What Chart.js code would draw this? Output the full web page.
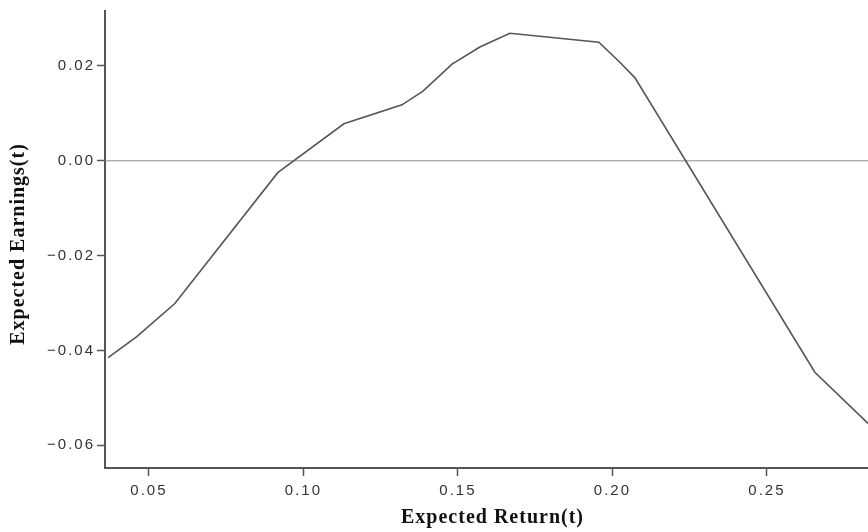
<!DOCTYPE html>
<html lang="en">
<head>
  <meta charset="UTF-8" />
  <title>Expected Earnings vs Expected Return</title>
  <script src="https://cdn.jsdelivr.net/npm/chart.js"></script>
  <style>
    html, body { margin: 0; padding: 0; background: #fff; }
    #wrap { width: 868px; height: 532px; }
  </style>
</head>
<body>
  <div id="wrap"><canvas id="chart" width="868" height="532"></canvas></div>

  <script>
    // Data
    const returns = [0.0368, 0.0461, 0.0584, 0.0917, 0.1131, 0.1319, 0.1387, 0.1481, 0.1571, 0.1668, 0.1956, 0.2024, 0.2073, 0.2655, 0.2827];
    const earnings = [-0.0415, -0.0371, -0.0301, -0.0025, 0.0078, 0.0118, 0.0147, 0.0204, 0.0240, 0.0269, 0.0250, 0.0208, 0.0175, -0.0446, -0.0554];

    const xTicks = [0.05, 0.10, 0.15, 0.20, 0.25];
    const xTickLabels = ['0.05', '0.10', '0.15', '0.20', '0.25'];
    const yTicks = [-0.06, -0.04, -0.02, 0.00, 0.02];
    const yTickLabels = ['\u22120.06', '\u22120.04', '\u22120.02', '0.00', '0.02'];

    const xTitle = 'Expected Return(t)';
    const yTitle = 'Expected Earnings(t)';

    const xMin = 0.0358, xMax = 0.2827;
    const yMin = -0.0648, yMax = 0.0316;

    const axisColor = '#555';
    const tickFont = { family: 'Liberation Sans', size: 15 };

    // wider spacing for tick labels, like the original
    const spacing = {
      id: 'spacing',
      beforeDraw(chart) { chart.ctx.letterSpacing = '2px'; }
    };

    // axis titles, bold serif
    const axisTitles = {
      id: 'axisTitles',
      afterDraw(chart) {
        const { ctx, chartArea } = chart;
        ctx.save();
        ctx.letterSpacing = '1px';
        ctx.font = 'bold 20px "Liberation Serif"';
        ctx.fillStyle = '#111';
        ctx.textAlign = 'center';
        ctx.textBaseline = 'middle';
        ctx.fillText(xTitle, (chartArea.left + chartArea.right) / 2 + 6, 518);
        ctx.translate(19, 244);
        ctx.rotate(-Math.PI / 2);
        ctx.fillText(yTitle, 0, 0);
        ctx.restore();
      }
    };

    new Chart(document.getElementById('chart'), {
      type: 'line',
      data: {
        datasets: [
          {
            data: returns.map((x, i) => ({ x, y: earnings[i] })),
            borderColor: '#555',
            borderWidth: 1.6,
            pointRadius: 0,
            tension: 0
          },
          {
            // reference line at zero
            data: [{ x: xMin, y: 0 }, { x: xMax, y: 0 }],
            borderColor: '#8a8a8a',
            borderWidth: 1,
            pointRadius: 0
          }
        ]
      },
      options: {
        responsive: false,
        animation: false,
        layout: { padding: { top: 10, right: 0, bottom: 0, left: 0 } },
        plugins: { legend: { display: false }, tooltip: { enabled: false } },
        scales: {
          x: {
            type: 'linear',
            min: xMin,
            max: xMax,
            afterBuildTicks: s => { s.ticks = xTicks.map(v => ({ value: v })); },
            afterFit: s => { s.height = 64; },
            border: { display: true, color: axisColor, width: 2 },
            grid: { drawOnChartArea: false, tickLength: 8, tickColor: axisColor, tickWidth: 1.5 },
            ticks: {
              font: tickFont, color: '#333', padding: 6, maxRotation: 0, autoSkip: false,
              callback: (v, i) => xTickLabels[i]
            }
          },
          y: {
            type: 'linear',
            min: yMin,
            max: yMax,
            afterBuildTicks: s => { s.ticks = yTicks.map(v => ({ value: v })); },
            afterFit: s => { s.width = 105; },
            border: { display: true, color: axisColor, width: 2 },
            grid: { drawOnChartArea: false, tickLength: 8, tickColor: axisColor, tickWidth: 1.5 },
            ticks: {
              font: tickFont, color: '#333', padding: 2, autoSkip: false,
              callback: (v, i) => yTickLabels[i]
            }
          }
        }
      },
      plugins: [spacing, axisTitles]
    });
  </script>
</body>
</html>
